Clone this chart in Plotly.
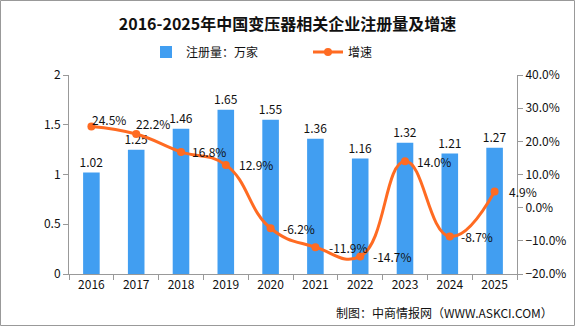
import plotly.graph_objects as go

years = ["2016", "2017", "2018", "2019", "2020", "2021", "2022", "2023", "2024", "2025"]
registrations = [1.02, 1.25, 1.46, 1.65, 1.55, 1.36, 1.16, 1.32, 1.21, 1.27]
growth = [24.5, 22.2, 16.8, 12.9, -6.2, -11.9, -14.7, 14.0, -8.7, 4.9]
label_dx = [-1, -2, 9, 11, 10, 12, 11, 10, 9, 12]
label_dy = [7, 11, 0, 0, 0, 0, 0, 0, 0, 0]

FONT = "Noto Sans CJK SC, sans-serif"
BLUE = "#419EF1"
ORANGE = "#FF6B22"

W, H = 575, 326
L, R, T, B = 69, 58, 75, 52
pw, ph = W - L - R, H - T - B

fig = go.Figure()
fig.add_trace(go.Bar(
    x=years, y=registrations, name="注册量：万家",
    marker=dict(color=BLUE, line=dict(width=0)), width=0.37,
    text=[f"{v:.2f}" for v in registrations], textposition="outside", constraintext="none",
    textfont=dict(size=12, color="#111111", family=FONT), cliponaxis=False,
))
fig.add_trace(go.Scatter(
    x=years, y=growth, name="增速", yaxis="y2", mode="lines+markers",
    line=dict(color=ORANGE, width=3, shape="spline", smoothing=1.3),
    marker=dict(color=ORANGE, size=8), cliponaxis=False,
))

# category axis: annotations are positioned by category index
annotations = [
    dict(x=i, y=g, xref="x", yref="y2", text=f"{g:.1f}%", showarrow=False,
         xanchor="left", yanchor="middle", xshift=dx, yshift=dy,
         font=dict(size=12, color="#111111", family=FONT))
    for i, (g, dx, dy) in enumerate(zip(growth, label_dx, label_dy))
]
annotations.append(dict(text="制图：中商情报网（WWW.ASKCI.COM）", xref="paper", yref="paper",
                        x=(555 - L) / pw, xanchor="right", y=-(312 - T - ph) / ph, yanchor="middle",
                        showarrow=False, font=dict(size=12, color="#111111", family=FONT)))

fig.update_layout(
    width=W, height=H, autosize=False,
    margin=dict(l=L, r=R, t=T, b=B, autoexpand=False),
    paper_bgcolor="white", plot_bgcolor="white",
    font=dict(family=FONT, size=12, color="#111111"),
    title=dict(text="<b>2016-2025年中国变压器相关企业注册量及增速</b>", x=0.5, xanchor="center",
               y=1 - 24 / H, yanchor="middle", font=dict(size=16, color="#111111", family=FONT)),
    legend=dict(orientation="h", x=(146 - L) / pw, xanchor="left", y=1 + (T - 52) / ph,
                yanchor="middle", font=dict(size=12, family=FONT), itemwidth=30,
                traceorder="normal", entrywidth=117),
    showlegend=True,
    xaxis=dict(type="category", range=[-0.5, len(years) - 0.5], showline=True, linecolor="#999999",
               linewidth=1, ticks="outside", ticklen=5, tickcolor="#999999", tickson="boundaries",
               showgrid=False, tickangle=0, tickfont=dict(size=12, color="#111111")),
    yaxis=dict(range=[0, 2], dtick=0.5, showline=True, linecolor="#999999", linewidth=1,
               ticks="outside", ticklen=5, tickcolor="#999999", showgrid=False, zeroline=False,
               tickfont=dict(size=12, color="#111111")),
    yaxis2=dict(range=[-20, 40], dtick=10, overlaying="y", side="right", showline=True,
                linecolor="#999999", linewidth=1, ticks="outside", ticklen=5, tickcolor="#999999",
                showgrid=False, zeroline=False, tickformat=".1f", ticksuffix="%",
                tickfont=dict(size=12, color="#111111")),
    shapes=[dict(type="rect", xref="paper", yref="paper",
                 x0=(0.5 - L) / pw, x1=(W - 0.5 - L) / pw,
                 y0=-(B - 0.5) / ph, y1=(H - B - 0.5) / ph,
                 line=dict(color="#999999", width=1), fillcolor="rgba(0,0,0,0)", layer="below")],
    annotations=annotations,
)

fig.write_html("out.html")
